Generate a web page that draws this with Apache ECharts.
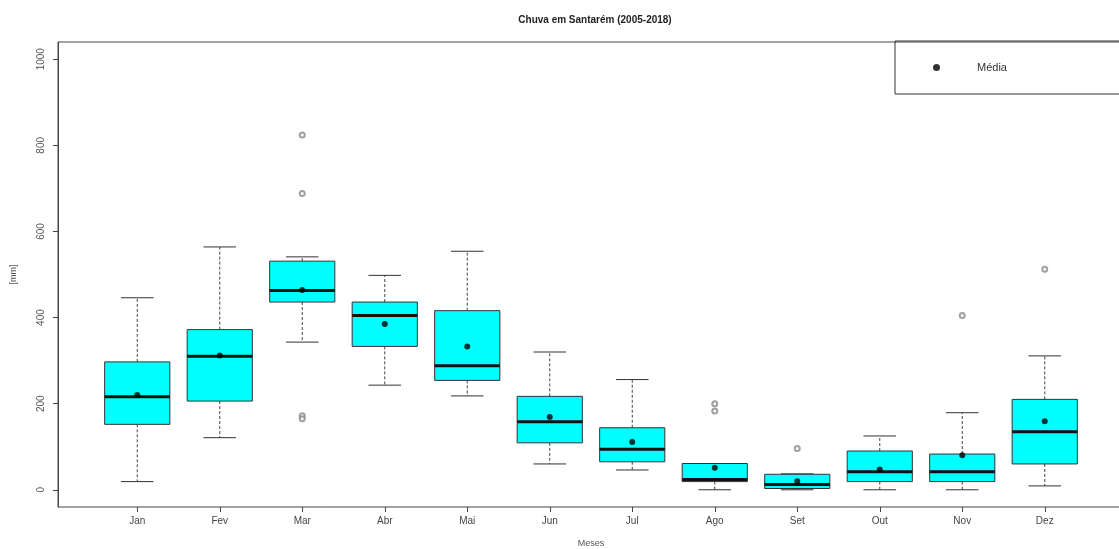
<!DOCTYPE html>
<html>
<head>
<meta charset="utf-8">
<title>Chuva em Santarém</title>
<script src="https://cdn.jsdelivr.net/npm/echarts@6/dist/echarts.min.js"></script>
<style>
html, body { margin: 0; padding: 0; background: #fff; }
#main { width: 1119px; height: 549px; }
</style>
</head>
<body>
<div id="main"></div>
<script>
// meses
var meses = ['Jan', 'Fev', 'Mar', 'Abr', 'Mai', 'Jun', 'Jul', 'Ago', 'Set', 'Out', 'Nov', 'Dez'];
// estatisticas do boxplot [mm]
var bigodeInf = [19, 121, 343, 243, 218, 60, 46, 0, 0, 0, 0, 9];
var q1 = [152, 206, 436, 333, 254, 109, 65, 19, 3, 19, 19, 60];
var mediana = [216, 310, 463, 405, 288, 158, 94, 24, 12, 42, 42, 135];
var q3 = [297, 372, 531, 436, 416, 217, 144, 61, 36, 90, 83, 210];
var bigodeSup = [446, 564, 541, 498, 554, 320, 256, 61, 37, 125, 179, 311];
// media mensal
var media = [220, 312, 464, 385, 333, 169, 111, 51, 20, 47, 80, 159];
// outliers [indice do mes, valor]
var outliers = [[2, 824], [2, 688], [2, 172], [2, 165], [7, 200], [7, 183], [8, 96], [10, 405], [11, 512]];
// ticks do eixo y
var yTicks = [0, 200, 400, 600, 800, 1000];

var boxData = [];
var mediaData = [];
for (var i = 0; i < meses.length; i++) {
	boxData.push([i, bigodeInf[i], q1[i], mediana[i], q3[i], bigodeSup[i]]);
	mediaData.push([i, media[i]]);
}

// desenha um boxplot estilo R (bigode tracejado, mediana grossa)
function renderBox(params, api) {
	var idx = api.value(0);
	var pMin = api.coord([idx, api.value(1)]);
	var pQ1 = api.coord([idx, api.value(2)]);
	var pMed = api.coord([idx, api.value(3)]);
	var pQ3 = api.coord([idx, api.value(4)]);
	var pMax = api.coord([idx, api.value(5)]);
	var band = api.size([1, 0])[0];
	var half = band * 0.395;
	var staple = half / 2;
	var x = pMed[0];
	var whisk = { stroke: '#444', lineWidth: 1, lineDash: [3, 2] };
	var cap = { stroke: '#333', lineWidth: 1 };
	return {
		type : 'group',
		children : [ {
			type : 'line',
			shape : { x1: x, y1: pQ3[1], x2: x, y2: pMax[1] },
			style : whisk
		}, {
			type : 'line',
			shape : { x1: x, y1: pQ1[1], x2: x, y2: pMin[1] },
			style : whisk
		}, {
			type : 'line',
			shape : { x1: x - staple, y1: pMax[1], x2: x + staple, y2: pMax[1] },
			style : cap
		}, {
			type : 'line',
			shape : { x1: x - staple, y1: pMin[1], x2: x + staple, y2: pMin[1] },
			style : cap
		}, {
			type : 'rect',
			shape : { x: x - half, y: pQ3[1], width: half * 2, height: pQ1[1] - pQ3[1] },
			style : { fill: '#00FFFF', stroke: '#333', lineWidth: 1 }
		}, {
			type : 'line',
			shape : { x1: x - half, y1: pMed[1], x2: x + half, y2: pMed[1] },
			style : { stroke: '#111', lineWidth: 3 }
		} ]
	};
}

var option = {
	animation : false,
	textStyle : { fontFamily : 'Liberation Sans, Arial, sans-serif' },
	title : {
		text : 'Chuva em Santarém (2005-2018)',
		left : 590,
		top : 10,
		textAlign : 'center',
		textStyle : { fontSize : 10, fontWeight : 'bold', color : '#222' }
	},
	legend : {
		data : [ 'Média' ],
		left : 895,
		top : 41,
		padding : [ 21, 120, 21, 38 ],
		borderColor : '#333',
		borderWidth : 1,
		icon : 'circle',
		itemWidth : 7,
		itemHeight : 7,
		textStyle : { fontSize : 11, color : '#333', padding : [ 0, 0, 0, 32 ] }
	},
	grid : { left : 96, right : 33, top : 42, bottom : 42, outerBoundsMode : 'none', containLabel : false },
	// moldura do grafico
	graphic : [ {
		type : 'rect',
		shape : { x : 58, y : 42, width : 1070, height : 465 },
		style : { fill : 'none', stroke : '#444', lineWidth : 1 },
		silent : true
	} ],
	xAxis : {
		type : 'category',
		data : meses,
		name : 'Meses',
		nameLocation : 'middle',
		nameGap : 32,
		nameTextStyle : { fontSize : 9, color : '#555' },
		axisLine : { show : false, onZero : false },
		axisTick : { show : true, alignWithLabel : true, length : 5, lineStyle : { color : '#444' } },
		axisLabel : { fontSize : 10, color : '#444', margin : 9 },
		splitLine : { show : false }
	},
	yAxis : {
		type : 'value',
		min : -40,
		max : 1040,
		offset : 38,
		name : '[mm]',
		nameLocation : 'middle',
		nameRotate : 90,
		nameGap : 40,
		nameTextStyle : { fontSize : 9, color : '#555' },
		axisLine : { show : true, lineStyle : { color : '#444' } },
		axisTick : { show : true, length : 5, customValues : yTicks, lineStyle : { color : '#444' } },
		axisLabel : {
			rotate : 90,
			fontSize : 10,
			color : '#555',
			margin : 12,
			customValues : yTicks,
			formatter : function(v) { return String(v); }
		},
		splitLine : { show : false }
	},
	series : [ {
		name : 'Boxplot',
		type : 'custom',
		renderItem : renderBox,
		data : boxData,
		encode : { x : 0, y : [ 1, 2, 3, 4, 5 ] },
		z : 2
	}, {
		name : 'Outliers',
		type : 'scatter',
		data : outliers,
		symbol : 'emptyCircle',
		symbolSize : 5,
		itemStyle : { color : '#888', borderColor : '#888', borderWidth : 1 },
		z : 3
	}, {
		name : 'Média',
		type : 'scatter',
		data : mediaData,
		symbol : 'circle',
		symbolSize : 6,
		itemStyle : { color : '#000' },
		z : 4
	} ]
};

var myChart = echarts.init(document.getElementById('main'));
myChart.setOption(option);
</script>
</body>
</html>
